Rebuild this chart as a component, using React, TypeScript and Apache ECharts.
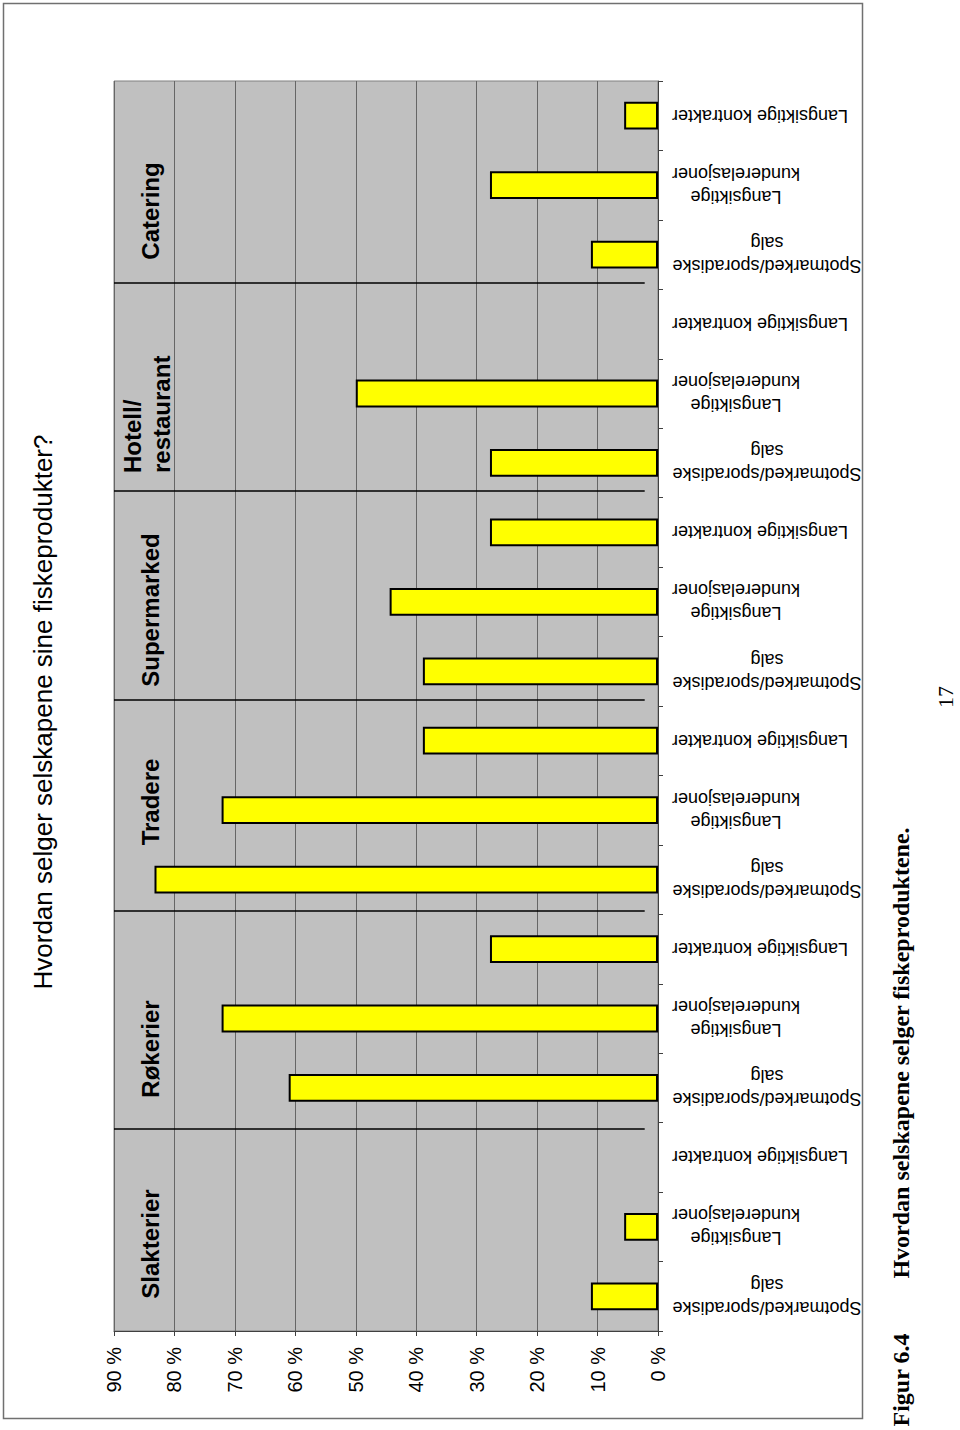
import React, { useEffect, useRef } from 'react';
import * as echarts from 'echarts';

// ---------- data ----------
const segments = ['Slakterier', 'Røkerier', 'Tradere', 'Supermarked', 'Hotell/\nrestaurant', 'Catering'];
const channels = ['Spotmarked/sporadiske\nsalg', 'Langsiktige\nkunderelasjoner', 'Langsiktige kontrakter'];
const slakterier = [11.1, 5.6, 0];
const rokerier = [61.1, 72.2, 27.8];
const tradere = [83.3, 72.2, 38.9];
const supermarked = [38.9, 44.4, 27.8];
const hotell = [27.8, 50.0, 0];
const catering = [11.1, 27.8, 5.6];
const valueMin = 0;
const valueMax = 90;
const valueStep = 10;
// group separator lines (position on category scale, 0 = bottom)
const separators = [2.91, 6.05, 9.09, 12.1, 15.1];
const title = 'Hvordan selger selskapene sine fiskeprodukter?';
const figNo = 'Figur 6.4';
const caption = 'Hvordan selskapene selger fiskeproduktene.';
const pageNo = '17';

// ---------- layout ----------
const SANS = '"Liberation Sans", Arial, Helvetica, sans-serif';
const SERIF = '"Liberation Serif", "Times New Roman", serif';
const groupLabelPos = [
  { x: 150, y: 1244, align: 'center' },
  { x: 150, y: 1049, align: 'center' },
  { x: 150, y: 802, align: 'center' },
  { x: 150, y: 610, align: 'center' },
  { x: 147, y: 473, align: 'left' },
  { x: 150, y: 211, align: 'center' },
];

const groupData = [slakterier, rokerier, tradere, supermarked, hotell, catering];
const categories = segments.flatMap(() => channels);
const values = groupData.flat();

export default function App() {
  const ref = useRef<HTMLDivElement>(null);
  useEffect(() => {
    if (!ref.current) return;
    const chart = echarts.init(ref.current, null, { renderer: 'svg' });
    const labelStyle = { fontSize: 18, lineHeight: 23, fontFamily: SANS, color: '#000' };
    const option: any = {
      animation: false,
      backgroundColor: '#fff',
      grid: {
        left: 114, right: 302, top: 81, bottom: 99,
        show: true, backgroundColor: '#C0C0C0', borderColor: '#808080', borderWidth: 1,
      },
      xAxis: {
        type: 'value', inverse: true, position: 'bottom',
        min: valueMin, max: valueMax, interval: valueStep,
        axisLine: { show: true, lineStyle: { color: '#404040', width: 1 } },
        axisTick: { show: true, length: 5, lineStyle: { color: '#404040' } },
        splitLine: { show: true, lineStyle: { color: '#666666', width: 1 } },
        axisLabel: {
          rotate: 90, margin: 16, fontSize: 20, fontFamily: SANS, color: '#000',
          formatter: (v: number) => `${v} %`,
        },
      },
      yAxis: [
        {
          type: 'category', position: 'right', data: categories,
          axisLine: { show: true, onZero: false, lineStyle: { color: '#404040', width: 1 } },
          axisTick: { show: true, length: 5, lineStyle: { color: '#404040' } },
          splitLine: { show: false },
          axisLabel: {
            interval: 0, rotate: 180, margin: 14, ...labelStyle,
            formatter: (val: string) => {
              const key = val.startsWith('Spot') ? 'a' : val.includes('kunde') ? 'b' : 'c';
              return val.split('\n').map((l) => `{${key}|${l}}`).join('\n');
            },
            rich: {
              a: { ...labelStyle, width: 190, align: 'center' },
              b: { ...labelStyle, width: 128, align: 'center' },
              c: { ...labelStyle },
            },
          },
        },
        { type: 'value', show: false, min: 0, max: categories.length, position: 'left' },
      ],
      series: [
        {
          type: 'bar', xAxisIndex: 0, yAxisIndex: 0, barWidth: '40%',
          data: values.map((v) => (v === 0 ? '-' : v)),
          itemStyle: { color: '#FFFF00', borderColor: '#000', borderWidth: 2 },
          z: 4,
        },
        {
          type: 'lines', coordinateSystem: 'cartesian2d', xAxisIndex: 0, yAxisIndex: 1,
          silent: true, z: 3,
          lineStyle: { color: '#000', width: 1.5, opacity: 1 },
          data: separators.map((y) => ({ coords: [[valueMax, y], [2.2, y]] })),
        },
      ],
      graphic: [
        { type: 'rect', shape: { x: 3.5, y: 3.5, width: 859, height: 1415 }, style: { fill: 'none', stroke: '#707070', lineWidth: 1.5 }, z: 0 },
        {
          type: 'text', x: 43, y: 712, rotation: Math.PI / 2,
          style: { text: title, fontSize: 26, fontFamily: SANS, fill: '#000', align: 'center', verticalAlign: 'middle' },
        },
        ...segments.map((s, i) => ({
          type: 'text', x: groupLabelPos[i].x, y: groupLabelPos[i].y, rotation: Math.PI / 2, z: 10,
          style: {
            text: s, fontSize: 24, fontWeight: 'bold', fontFamily: SANS, fill: '#000', lineHeight: 29,
            align: groupLabelPos[i].align, verticalAlign: 'middle',
          },
        })),
        {
          type: 'text', x: 901, y: 1380, rotation: Math.PI / 2,
          style: { text: figNo, fontSize: 24, fontWeight: 'bold', fontFamily: SERIF, fill: '#000', align: 'center', verticalAlign: 'middle' },
        },
        {
          type: 'text', x: 901, y: 1053, rotation: Math.PI / 2,
          style: { text: caption, fontSize: 24, fontWeight: 'bold', fontFamily: SERIF, fill: '#000', align: 'center', verticalAlign: 'middle' },
        },
        {
          type: 'text', x: 945, y: 697, rotation: Math.PI / 2,
          style: { text: pageNo, fontSize: 22, fontFamily: SERIF, fill: '#000', align: 'center', verticalAlign: 'middle' },
        },
      ],
    };
    chart.setOption(option);
    return () => chart.dispose();
  }, []);
  return <div ref={ref} style={{ position: 'absolute', left: 0, top: 0, width: 960, height: 1430 }} />;
}
